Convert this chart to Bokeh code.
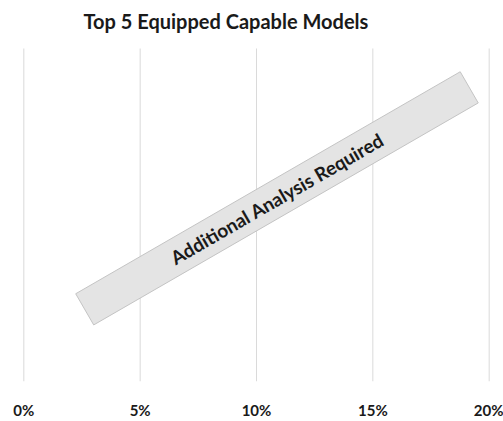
import math
from bokeh.plotting import figure
from bokeh.models import FixedTicker, Range1d, Label
from bokeh.core.properties import value
from bokeh.embed import file_html
from bokeh.resources import INLINE

# ---- data ----
title_text = "Top 5 Equipped Capable Models"
x_ticks = [0.0, 0.05, 0.10, 0.15, 0.20]
tick_labels = ["0%", "5%", "10%", "15%", "20%"]
note_text = ["Additional Analysis Required"]
note_x = [0.1088]
note_y = [0.55]

W, H = 503, 421
LEFT, BOTTOM = 21, 32
GRID_TOP_PX = 49            # gridlines start this far below the top
frame_h = H - BOTTOM        # frame covers the whole top area
y_top = frame_h / (frame_h - GRID_TOP_PX)   # grid spans y = 0..1

p = figure(width=W, height=H, output_backend="svg", toolbar_location=None,
           x_range=Range1d(-0.001, 0.201), y_range=Range1d(0, y_top),
           min_border_left=LEFT, min_border_right=12, min_border_top=0,
           min_border_bottom=BOTTOM)

p.outline_line_color = None
p.background_fill_color = "white"
p.border_fill_color = "white"

p.xaxis.ticker = FixedTicker(ticks=x_ticks)
p.xaxis.major_label_overrides = {t: l for t, l in zip(x_ticks, tick_labels)}
p.xaxis.axis_line_color = None
p.xaxis.major_tick_line_color = None
p.xaxis.minor_tick_line_color = None
p.xaxis.major_label_standoff = 13
p.xaxis.major_label_text_font = "Lato"
p.xaxis.major_label_text_font_size = "15px"
p.xaxis.major_label_text_font_style = "bold"
p.xaxis.major_label_text_color = "#1a1a1a"

p.yaxis.visible = False
p.ygrid.grid_line_color = None
p.xgrid.grid_line_color = None

# vertical gridlines from the tick positions, spanning the plot area
p.segment(x0=x_ticks, y0=[0] * len(x_ticks), x1=x_ticks, y1=[1] * len(x_ticks),
          line_color="#dadada", line_width=1)

# title (screen units measured from the frame's lower-left corner)
title = Label(x=83 - LEFT, y=frame_h - 28, x_units="screen", y_units="screen",
              text=title_text, text_font="Lato", text_font_size="20px",
              text_font_style="bold", text_color="#1a1a1a",
              text_align="left", text_baseline="alphabetic")
p.add_layout(title)

ang = math.radians(30)
p.rect(x=note_x, y=note_y, width=444, height=36, width_units="screen",
       height_units="screen", angle=ang, fill_color="#e4e4e4",
       line_color="#c4c4c4", line_width=1)
p.text(x=note_x, y=note_y, text=note_text, angle=ang, text_align="center",
       text_baseline="middle", text_font=value("Lato"), text_font_size="19px",
       text_font_style="bold", text_color="#1a1a1a")

open("out.html", "w").write(file_html(p, INLINE))
